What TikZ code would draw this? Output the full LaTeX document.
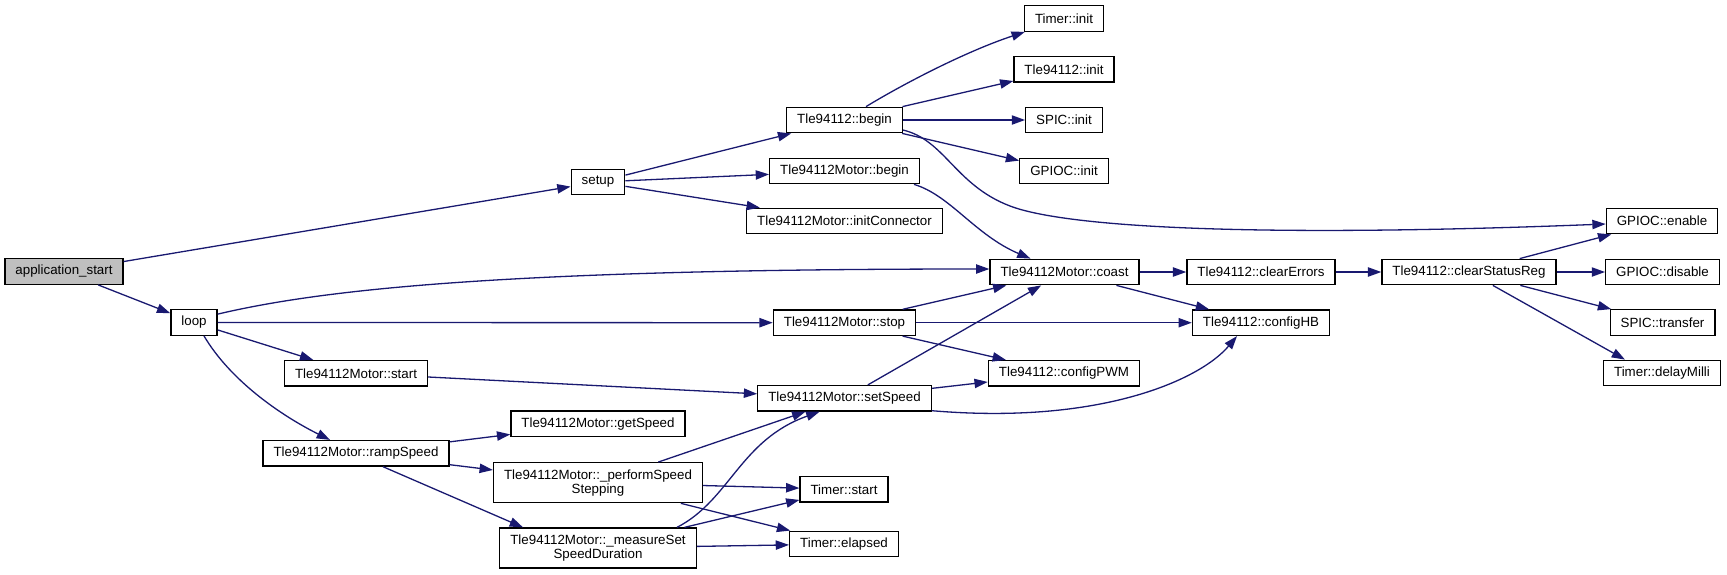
\documentclass[tikz,border=0pt]{standalone}
\usepackage{fontspec}
\setmainfont{Liberation Sans}
\usetikzlibrary{arrows.meta,positioning,calc}
\definecolor{edgeblue}{HTML}{191970}
\definecolor{rootgrey}{HTML}{BFBFBF}
\tikzset{
  fn/.style={draw=black,line width=1.3pt,fill=white,inner xsep=10.5pt,inner ysep=0pt,
    minimum height=25.5pt,font=\fontsize{13.33}{14}\selectfont},
  fntwo/.style={fn,align=center,minimum height=40pt},
  call/.style={->,draw=edgeblue,line width=1.3pt},
}
\begin{document}
\begin{tikzpicture}[x=1pt,y=-1pt,>={Triangle[length=13.3pt,width=9.3pt]}]
  \useasboundingbox (0,0) rectangle (1727,574);
  % functions, column by column
  \node[fn,fill=rootgrey] (app) at (64,271.5) {application\_start};
  \node[fn] (setup) at (598,182) {setup};
  \node[fn] (loop) at (194,322.5) {loop};
  \node[fn] (mstart) at (356,373.3) {Tle94112Motor::start};
  \node[fn] (ramp) at (356,453.3) {Tle94112Motor::rampSpeed};
  \node[fn] (getspd) at (598,423.7) {Tle94112Motor::getSpeed};
  \node[fntwo] (perf) at (598,482.7) {Tle94112Motor::\_performSpeed\\Stepping};
  \node[fntwo] (meas) at (598,548) {Tle94112Motor::\_measureSet\\SpeedDuration};
  \node[fn] (tbeg) at (844.5,120) {Tle94112::begin};
  \node[fn] (mbeg) at (844.5,171) {Tle94112Motor::begin};
  \node[fn] (minit) at (844.5,221) {Tle94112Motor::initConnector};
  \node[fn] (stop) at (844.5,322.7) {Tle94112Motor::stop};
  \node[fn] (setspd) at (844.5,398.3) {Tle94112Motor::setSpeed};
  \node[fn] (tstart) at (844,489.3) {Timer::start};
  \node[fn] (telap) at (844,544) {Timer::elapsed};
  \node[fn] (tinit) at (1064,18.5) {Timer::init};
  \node[fn] (tleinit) at (1064,69.3) {Tle94112::init};
  \node[fn] (spiinit) at (1064,120) {SPIC::init};
  \node[fn] (gpinit) at (1064,171) {GPIOC::init};
  \node[fn] (coast) at (1064.5,272) {Tle94112Motor::coast};
  \node[fn] (cpwm) at (1064,373.3) {Tle94112::configPWM};
  \node[fn] (clrerr) at (1261,272) {Tle94112::clearErrors};
  \node[fn] (chb) at (1261,322.7) {Tle94112::configHB};
  \node[fn] (clrstat) at (1469,272) {Tle94112::clearStatusReg};
  \node[fn] (genable) at (1662,221) {GPIOC::enable};
  \node[fn] (gdisable) at (1662.5,272) {GPIOC::disable};
  \node[fn] (spixfer) at (1662.5,322.5) {SPIC::transfer};
  \node[fn] (tdelay) at (1662,373) {Timer::delayMilli};
  % calls
  \draw[call] (app) -- (setup);
  \draw[call] (app) -- (loop);
  \draw[call] (setup) -- (tbeg);
  \draw[call] (setup) -- (mbeg);
  \draw[call] (setup) -- (minit);
  \draw[call] ([xshift=21.5pt]tbeg.north) .. controls (910,80) and (970,50) .. ([xshift=1pt]tinit.south west);
  \draw[call] (tbeg) -- (tleinit);
  \draw[call] (tbeg) -- (spiinit);
  \draw[call] (tbeg) -- (gpinit);
  \draw[call] ([yshift=-10pt]tbeg.east) .. controls (945,140) and (955,185) .. (1010,206)
    .. controls (1065,227) and (1250,238) .. ([yshift=-3pt]genable.west);
  \draw[call] ([xshift=-6pt]mbeg.south east) .. controls (950,195) and (975,235) .. ([xshift=-34pt]coast.north);
  \draw[call] ([yshift=-5pt]loop.north east) .. controls (320,290) and (500,269) .. ([yshift=3pt]coast.west);
  \draw[call] (loop) -- (stop);
  \draw[call] (loop) -- (mstart);
  \draw[call] ([xshift=10pt]loop.south) .. controls (230,380) and (280,415) .. ([xshift=-26pt]ramp.north);
  \draw[call] (mstart) -- (setspd);
  \draw[call] (ramp) -- (getspd);
  \draw[call] (ramp) -- (perf);
  \draw[call] ([xshift=27pt]ramp.south) -- ([xshift=-75pt]meas.north);
  \draw[call] (perf) -- (setspd);
  \draw[call] (perf) -- (tstart);
  \draw[call] (perf) -- (telap);
  \draw[call] ([xshift=79pt]meas.north) .. controls (730,500) and (740,440) .. ([xshift=-25pt]setspd.south);
  \draw[call] (meas) -- (tstart);
  \draw[call] (meas) -- (telap);
  \draw[call] (stop) -- (coast);
  \draw[call] (stop) -- (chb);
  \draw[call] (stop) -- (cpwm);
  \draw[call] (setspd) -- (coast);
  \draw[call] (setspd) -- (cpwm);
  \draw[call] ([yshift=1pt]setspd.south east) .. controls (1100,425) and (1200,380) .. ([xshift=-24pt]chb.south);
  \draw[call] (coast) -- (clrerr);
  \draw[call] (coast) -- (chb);
  \draw[call] (clrerr) -- (clrstat);
  \draw[call] (clrstat) -- (genable);
  \draw[call] (clrstat) -- (gdisable);
  \draw[call] (clrstat) -- (spixfer);
  \draw[call] (clrstat) -- ([xshift=-37pt]tdelay.north);
\end{tikzpicture}
\end{document}
